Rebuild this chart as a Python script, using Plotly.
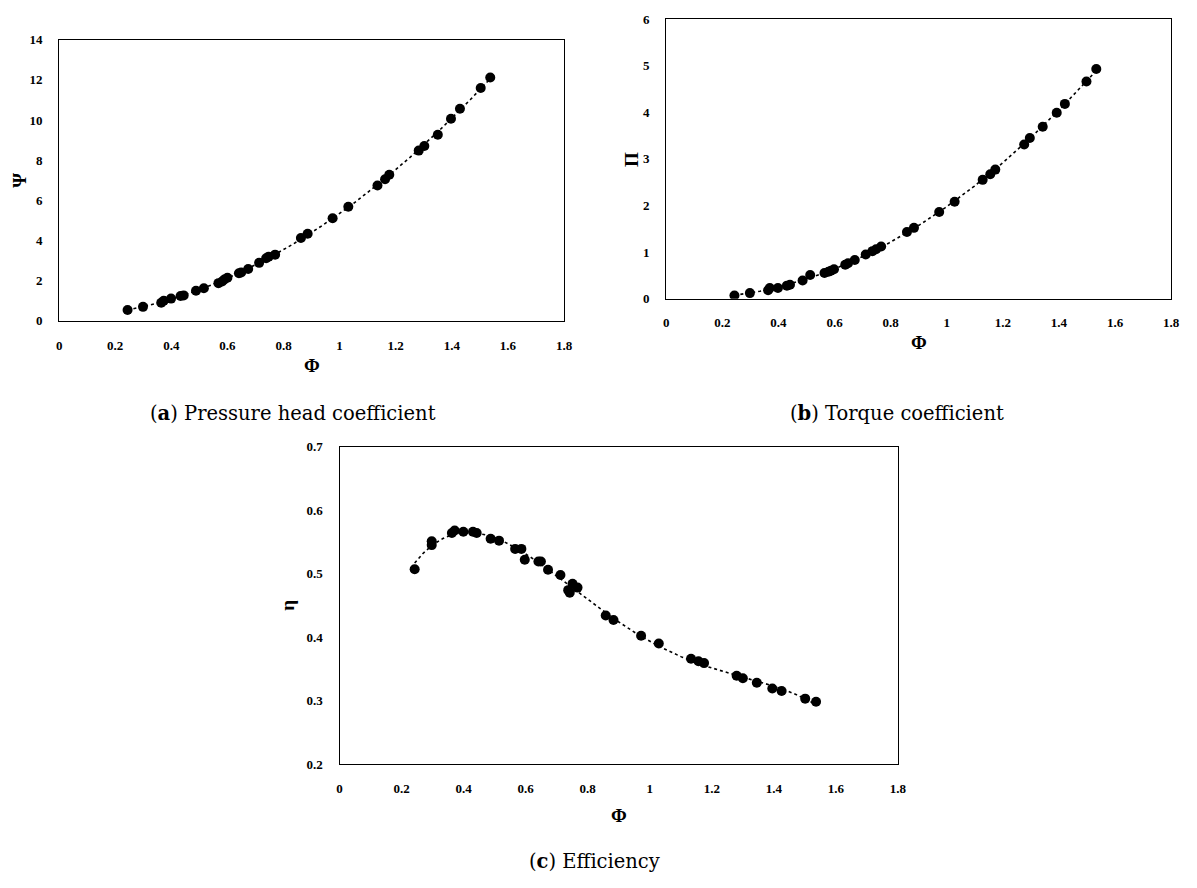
import numpy as np
import plotly.graph_objects as go

# ---------------- data ----------------
phi_psi = [0.244, 0.299, 0.364, 0.373, 0.399, 0.433, 0.444, 0.488, 0.516, 0.568,
           0.581, 0.589, 0.600, 0.641, 0.649, 0.674, 0.713, 0.738, 0.747, 0.770,
           0.862, 0.886, 0.975, 1.031, 1.135, 1.162, 1.177, 1.282, 1.302, 1.350,
           1.397, 1.429, 1.503, 1.537]
psi = [0.54, 0.70, 0.90, 1.00, 1.11, 1.24, 1.27, 1.50, 1.63, 1.88,
       1.96, 2.06, 2.15, 2.37, 2.41, 2.58, 2.89, 3.12, 3.20, 3.30,
       4.13, 4.34, 5.11, 5.68, 6.74, 7.05, 7.28, 8.48, 8.71, 9.27,
       10.07, 10.56, 11.60, 12.12]

phi_pi = [0.243, 0.298, 0.363, 0.369, 0.398, 0.430, 0.441, 0.486, 0.513, 0.564,
          0.578, 0.587, 0.598, 0.638, 0.648, 0.672, 0.711, 0.735, 0.748, 0.766,
          0.858, 0.883, 0.973, 1.028, 1.128, 1.155, 1.173, 1.276, 1.296, 1.342,
          1.392, 1.421, 1.498, 1.533]
pi_ = [0.07, 0.12, 0.18, 0.23, 0.23, 0.28, 0.30, 0.39, 0.51, 0.55,
       0.58, 0.60, 0.63, 0.73, 0.76, 0.83, 0.95, 1.02, 1.06, 1.12,
       1.43, 1.52, 1.86, 2.08, 2.55, 2.67, 2.77, 3.31, 3.45, 3.69,
       3.99, 4.18, 4.66, 4.93]

phi_eta = [0.242, 0.297, 0.297, 0.362, 0.371, 0.399, 0.430, 0.442, 0.487, 0.514,
           0.566, 0.586, 0.597, 0.641, 0.649, 0.672, 0.712, 0.737, 0.742, 0.751,
           0.767, 0.858, 0.883, 0.972, 1.029, 1.133, 1.157, 1.175, 1.280, 1.300,
           1.345, 1.395, 1.425, 1.501, 1.536]
eta = [0.507, 0.551, 0.545, 0.564, 0.568, 0.566, 0.566, 0.564, 0.555, 0.552,
       0.539, 0.539, 0.522, 0.519, 0.519, 0.506, 0.498, 0.474, 0.470, 0.484,
       0.478, 0.434, 0.427, 0.402, 0.390, 0.366, 0.362, 0.359, 0.339, 0.335,
       0.328, 0.319, 0.315, 0.303, 0.298]

x_ticks = [0, 0.2, 0.4, 0.6, 0.8, 1, 1.2, 1.4, 1.6, 1.8]

W, H = 1197, 888

def px_x(v):
    return v / W

def px_y(v):
    return 1 - v / H

fig = go.Figure()

panels = [
    (phi_psi, psi, 2, "", (56.7, 566.7), (33.3, 319.3), [0, 14], 2),
    (phi_pi, pi_, 2, "2", (670, 1180), (12.3, 296.7), [0, 6], 1),
    (phi_eta, eta, 4, "3", (340, 904), (447.3, 770), [0.2, 0.7], 0.1),
]

tick_font = dict(family="Liberation Serif", size=13, color="black", weight="bold")

for xs, ys, order, sfx, (xl, xr), (yt, yb), yr, dt in panels:
    xa = "x" + sfx
    ya = "y" + sfx
    coef = np.polyfit(xs, ys, order)
    xx = np.linspace(min(xs), max(xs), 200)
    fig.add_trace(go.Scatter(x=xx, y=np.polyval(coef, xx), mode="lines",
                             line=dict(color="black", width=1.6, dash="dot"),
                             xaxis=xa, yaxis=ya, showlegend=False, hoverinfo="skip"))
    fig.add_trace(go.Scatter(x=xs, y=ys, mode="markers",
                             marker=dict(color="black", size=10),
                             xaxis=xa, yaxis=ya, showlegend=False))
    xkey = "xaxis" + sfx
    ykey = "yaxis" + sfx
    fig.layout[xkey] = dict(domain=[px_x(xl), px_x(xr)], range=[0, 1.8],
                            tickvals=x_ticks, ticktext=[str(t) for t in x_ticks],
                            showgrid=False, zeroline=False, showline=True, mirror=True,
                            linecolor="black", linewidth=1.3, ticks="",
                            ticklabelstandoff=12, tickfont=tick_font,
                            anchor=ya, fixedrange=True)
    fig.layout[ykey] = dict(domain=[px_y(yb), px_y(yt)], range=yr, dtick=dt,
                            showgrid=False, zeroline=False, showline=True, mirror=True,
                            linecolor="black", linewidth=1.3, ticks="",
                            ticklabelstandoff=13, tickfont=tick_font,
                            anchor=xa, fixedrange=True)

title_font = dict(family="Liberation Serif", size=19, color="black")
cap_font = dict(family="DejaVu Serif", size=19.5, color="black")

annots = [
    ("<b>Φ</b>", 311.7, 365, 0, title_font),
    ("<b>Ψ</b>", 16, 176, -90, title_font),
    ("<b>Φ</b>", 925, 341, 0, title_font),
    ("<b>Π</b>", 635, 155, -90, title_font),
    ("<b>Φ</b>", 622, 822, 0, title_font),
    ("<b>η</b>", 288, 609, -90, title_font),
    ("(<b>a</b>) Pressure head coefficient", 293, 413, 0, cap_font),
    ("(<b>b</b>) Torque coefficient", 903, 413, 0, cap_font),
    ("(<b>c</b>) Efficiency", 597, 869, 0, cap_font),
]
for txt, x, y, ang, f in annots:
    fig.add_annotation(text=txt, x=px_x(x), y=px_y(y), xref="paper", yref="paper",
                       xanchor="center", yanchor="middle", showarrow=False,
                       textangle=ang, font=f)

fig.update_layout(width=W, height=H, margin=dict(l=0, r=0, t=0, b=0),
                  paper_bgcolor="white", plot_bgcolor="white", showlegend=False)

fig.write_html("out.html")
